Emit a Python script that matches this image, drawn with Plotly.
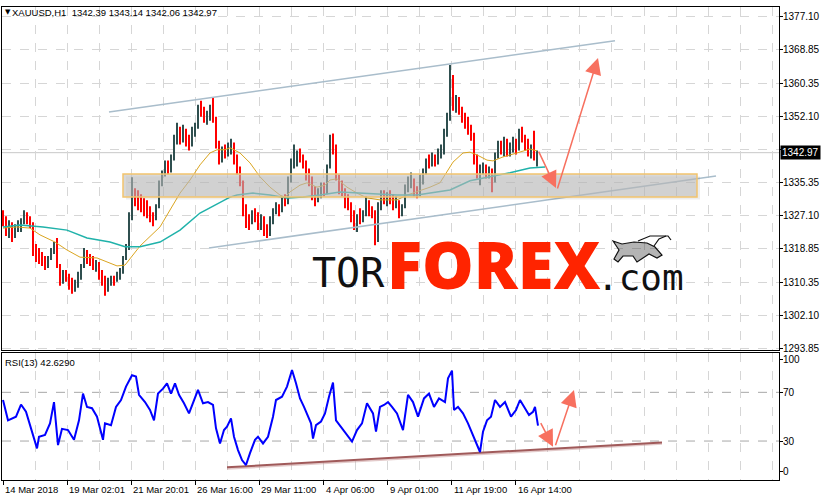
import plotly.graph_objects as go

# ---------------- DATA ----------------
# bar position = hours since 14 Mar 2018 (each bar aggregates 3 hours)
bar_hours = list(range(0, 537, 3))

opens = [1327,1326,1323,1325,1321.5,1324,1324.5,1326,1327.5,1326,
 1325,1318,1317,1316,1315.5,1314.5,1316.5,1318,1320,1315,
 1311,1312.5,1311.5,1309.5,1309,1310,1312,1314.5,1318,1316,
 1315.5,1314.5,1315,1312,1310.5,1308.5,1310.5,1311,1310.5,1312.5,
 1313,1316.5,1319,1327,1332,1331,1330,1329.5,1328.5,1327.5,
 1326.5,1326.5,1329.5,1335,1337.5,1339.5,1338.5,1341.5,1346,1348,
 1347,1348.5,1345.5,1344.5,1348.5,1349.5,1354,1353,1351.5,1352.5,
 1354.5,1351.5,1345,1341.5,1343.5,1343,1344.5,1345.5,1341.5,1338.5,
 1335.5,1328.5,1325.5,1325,1327.5,1326.5,1324.5,1326.5,1323,1322.5,
 1326,1328,1329.5,1328.5,1331,1330.5,1336,1340.5,1341,1342,
 1341.5,1339.5,1337.5,1335.5,1332.5,1331,1333,1334,1333,1339.5,
 1346,1344.5,1337,1334.5,1333.5,1330.5,1329,1327,1325,1326.5,
 1326,1328,1331,1328,1327.5,1324.5,1329.5,1332.5,1331,1332,
 1331,1330,1331,1327.5,1329.5,1334,1335.5,1336.5,1333,1332.5,
 1336.5,1338,1340.5,1340,1341.5,1340.5,1343,1343.5,1348,1352,
 1360,1355,1356,1353.5,1351.5,1350.5,1349,1347,1341,1338,
 1338.5,1339,1337.5,1338.5,1336,1342,1344.5,1343.5,1345.5,1343,
 1344.5,1345.5,1344,1348,1346.5,1344.5,1343.5,1344.5,1342]

highs = [1328.5,1327,1326,1325.5,1325,1326,1326.5,1328.5,1328,1327,
 1325.5,1320,1319,1318,1317,1317,1319,1320.5,1321.5,1315,
 1313.5,1313.5,1312.5,1311.5,1311,1313,1315,1319,1318.5,1317.5,
 1317,1316,1315.5,1313.5,1312,1311.5,1312,1312,1313,1314,
 1317,1320,1328,1336.8,1334,1333.5,1332.5,1331.5,1331,1329.5,
 1328,1330,1336,1338.5,1341,1341,1342.5,1347.5,1350.5,1349.5,
 1350,1349,1347.5,1349.5,1350.5,1355,1356,1354.5,1353.5,1355,
 1356.7,1352,1346,1344.5,1345,1345.5,1346.5,1345.5,1342.5,1339.5,
 1336,1330,1327.5,1328.5,1329,1328,1327.5,1327,1325,1327,
 1329,1330.5,1330,1332,1332.5,1337,1341.5,1345,1343.5,1344,
 1342.5,1341,1339,1337,1334.5,1334,1335.5,1335.5,1340,1347.5,
 1347.8,1345,1337.5,1336,1334,1332.5,1330.5,1328.5,1327.5,1329,
 1328.5,1332,1331,1329.5,1328.5,1330.5,1333.5,1333.5,1333,1333.5,
 1332.5,1332,1331,1330,1335,1337,1338,1336.5,1334.5,1337.5,
 1339,1341.5,1342.5,1343,1342.5,1344,1345,1349,1353,1365,
 1362.5,1357.5,1357,1354.5,1353,1352,1350,1348,1342.5,1340,
 1340.5,1340,1339.5,1339,1343,1346,1346,1347,1346.5,1345.5,
 1347,1346.5,1349,1349.5,1347.5,1346.5,1345,1348.5,1343.5]

lows = [1324.5,1322,1321.5,1320.5,1321.5,1323,1323,1325,1325,1324,
 1317,1315.5,1315,1314.5,1313.5,1314,1316,1317.5,1314,1309.5,
 1310,1310.5,1308.5,1307.5,1308,1309,1311,1314,1315,1314.5,
 1313.5,1313,1311,1309.5,1307,1308,1309.5,1309.5,1310.5,1311,
 1312.5,1316,1318.5,1326,1329.5,1328.5,1328,1327,1326.5,1325.5,
 1324.5,1326,1329,1334.5,1337,1337.5,1338,1341,1345,1345,
 1345.5,1344.5,1343.5,1344.5,1347,1349,1352,1350.5,1350,1351,
 1350.5,1344,1340,1340.5,1341.5,1342,1342.5,1340,1337.5,1334.5,
 1327,1324,1323.5,1325,1325.5,1323.5,1323.5,1322,1321.5,1322,
 1325,1327.5,1327,1328,1329.5,1330,1335.5,1339,1339.5,1340.5,
 1339,1336,1334.5,1331,1329.5,1330.5,1331.5,1332,1332.5,1339,
 1342.5,1336,1332.5,1332,1329,1328.5,1325.5,1323.5,1323,1325,
 1325.5,1327,1327,1326.5,1319.7,1320.5,1328.5,1330,1329.5,1330,
 1328.5,1329,1326.5,1327,1329,1333,1334,1332,1331.5,1332,
 1335,1337.5,1339,1339.5,1339.5,1340,1341.5,1342.5,1347,1351,
 1353.5,1353,1352.5,1350.5,1349,1347.5,1346,1340,1336.5,1334.8,
 1337.5,1336.5,1336.5,1333,1335.5,1341.5,1342.5,1342,1342,1342,
 1343,1342.5,1343.5,1345.5,1343.5,1342,1341.5,1341,1339.5]

closes = [1326,1323,1325,1321.5,1324,1324.5,1326,1327.5,1326,1325,
 1318,1317,1316,1315.5,1314.5,1316.5,1318,1320,1315,1311,
 1312.5,1311.5,1309.5,1309,1310,1312,1314.5,1318,1316,1315.5,
 1314.5,1315,1312,1310.5,1308.5,1310.5,1311,1310.5,1312.5,1313,
 1316.5,1319,1327,1332,1331,1330,1329.5,1328.5,1327.5,1326.5,
 1326.5,1329.5,1335,1337.5,1339.5,1338.5,1341.5,1346,1348,1347,
 1348.5,1345.5,1344.5,1348.5,1349.5,1354,1353,1351.5,1352.5,1354.5,
 1351.5,1345,1341.5,1343.5,1343,1344.5,1345.5,1341.5,1338.5,1335.5,
 1328.5,1325.5,1325,1327.5,1326.5,1324.5,1326.5,1323,1322.5,1326,
 1328,1329.5,1328.5,1331,1330.5,1336,1340.5,1341,1342,1341.5,
 1339.5,1337.5,1335.5,1332.5,1331,1333,1334,1333,1339.5,1346,
 1344.5,1337,1334.5,1333.5,1330.5,1329,1327,1325,1326.5,1326,
 1328,1331,1328,1327.5,1324.5,1329.5,1332.5,1331,1332,1331,
 1330,1331,1327.5,1329.5,1334,1335.5,1336.5,1333,1332.5,1336.5,
 1338,1340.5,1340,1341.5,1340.5,1343,1343.5,1348,1352,1360,
 1355,1356,1353.5,1351.5,1350.5,1349,1347,1341,1338,1338.5,
 1339,1337.5,1338.5,1336,1342,1344.5,1343.5,1345.5,1343,1344.5,
 1345.5,1344,1348,1346.5,1344.5,1343.5,1344.5,1342,1342.97]

ma_fast_hours = [0,14,27,37,52,64,77,94,104,114,122,130,137,157,167,177,187,197,207,214,
 222,227,237,247,257,267,277,282,287,297,304,314,322,327,334,344,354,364,377,394,
 404,414,427,437,440,450,460,467,474,484,490,500,514,527,534]
ma_fast = [1324.0,1324.3,1324.0,1322.3,1320.5,1318.5,1316.7,1316.5,1315.5,1314.5,
 1314.7,1317.2,1319.5,1324.3,1328.6,1332.8,1336.1,1339.9,1342.9,1343.7,
 1343.7,1344.2,1342.9,1340.4,1336.9,1334.3,1332.3,1331.8,1333.1,1334.8,
 1335.4,1334.3,1334.8,1336.1,1336.4,1334.3,1332.8,1331.6,1331.1,1331.1,
 1332.3,1333.1,1334.3,1335.4,1336.6,1340.6,1342.9,1343.1,1342.4,1341.1,
 1340.9,1341.9,1342.9,1343.9,1343.4]

ma_slow_hours = [0,17,40,64,84,107,122,137,157,177,197,217,227,234,250,267,284,300,317,337,
 360,394,414,437,447,467,487,507,527,542]
ma_slow = [1324.3,1324.8,1324.3,1323.5,1321.5,1320.5,1319.3,1319.3,1320.5,1323.5,
 1327.8,1330.6,1331.8,1332.3,1332.8,1332.3,1331.6,1331.8,1332.3,1333.1,
 1332.8,1332.3,1332.3,1333.1,1333.6,1335.9,1336.9,1337.9,1339.1,1339.4]

rsi_hours = [0,5,13,18,23,28,31,34,36,42,47,51,55,59,65,71,76,80,84,89,
 94,100,102,108,113,118,123,129,133,136,142,147,151,155,160,164,168,172,176,181,
 186,191,195,200,205,210,213,217,221,224,228,231,235,239,243,247,252,255,260,265,
 270,273,279,284,289,293,297,301,305,308,310,313,318,322,326,330,333,338,344,349,
 354,359,364,370,373,377,381,385,389,394,400,405,410,415,421,426,431,436,442,445,
 449,451,455,460,465,470,473,477,480,484,488,492,497,502,508,513,517,521,526,530,
 532,535]
rsi_vals = [63.7,47,50,60,54,40,33.5,24,33.5,35,44.5,62,26.7,40,39,31,47,69,58,57,
 50,31,44.5,43,58,63.7,74.7,84,83,68,62,55.5,47,69,73,77.4,69,77.4,68,61,
 52.7,63.7,72,61,62,59.6,40.4,28,39,41.8,48.6,33.5,22.6,14.4,10.3,20,31,33.5,28,33.5,
 50,63.7,66.4,74.7,88.4,77.4,65,58,50,44.5,32,43,46,52.7,66.4,78,47,41.8,35,29.5,
 39,44.5,61,52.7,37.7,58,59.6,62,58,52.7,39,68,62,50,65,69,58,65,62,81.5,
 87.8,55.5,58,52.7,44.5,35,28,21,37.7,47,50,63.7,58,62,50,55.5,63.7,58,51.4,54,
 58,42.6]

# analysis drawings
zone_hours = [120, 694]
zone_prices = [1331.8, 1337.6]
upper_channel_hours = [106, 612]
upper_channel_prices = [1353.2, 1371.1]
lower_channel_hours = [206, 713]
lower_channel_prices = [1319.0, 1337.1]
arrow_down = [(535, 1343.6), (553, 1334.1)]
arrow_up = [(554, 1333.6), (595, 1366.8)]
rsi_trend_hours = [224, 659]
rsi_trend_vals = [8.4, 28.9]
rsi_arrow_down = [(537, 46), (550, 25.3)]
rsi_arrow_up = [(552, 25.3), (571, 72)]

last_price = 1342.97
price_ticks = [1377.10, 1368.85, 1360.35, 1352.10, 1343.85, 1335.35, 1327.10, 1318.85, 1310.35, 1302.10, 1293.85]
price_tick_text = ["1377.10", "1368.85", "1360.35", "1352.10", "", "1335.35", "1327.10", "1318.85", "1310.35", "1302.10", "1293.85"]
rsi_ticks = [96.6, 70, 30, 4.6]
rsi_tick_text = ["100", "70", "30", "0"]
time_labels = ["14 Mar 2018", "19 Mar 02:01", "21 Mar 20:01", "26 Mar 16:00", "29 Mar 11:00",
               "4 Apr 06:00", "9 Apr 01:00", "11 Apr 19:00", "16 Apr 14:00"]
time_label_hours = [64.1 * k for k in range(len(time_labels))]
grid_hours = [32.05 * k for k in range(25)]

# ---------------- FIGURE ----------------
GRID = "#D6D6D6"
FONT = "Liberation Sans"
fig = go.Figure()

fig.add_trace(go.Scatter(x=upper_channel_hours, y=upper_channel_prices, mode="lines",
                         line=dict(color="#A9BDCB", width=1.5), xaxis="x", yaxis="y", hoverinfo="skip"))
fig.add_trace(go.Scatter(x=lower_channel_hours, y=lower_channel_prices, mode="lines",
                         line=dict(color="#A9BDCB", width=1.5), xaxis="x", yaxis="y", hoverinfo="skip"))

fig.add_trace(go.Ohlc(x=bar_hours, open=opens, high=highs, low=lows, close=closes,
                      tickwidth=0,
                      increasing=dict(line=dict(color="#2F4F4F", width=2)),
                      decreasing=dict(line=dict(color="#FF0000", width=2)),
                      xaxis="x", yaxis="y"))

fig.add_trace(go.Scatter(x=ma_fast_hours, y=ma_fast, mode="lines",
                         line=dict(color="#DAA520", width=1), xaxis="x", yaxis="y"))
fig.add_trace(go.Scatter(x=ma_slow_hours, y=ma_slow, mode="lines",
                         line=dict(color="#20B2AA", width=1.5), xaxis="x", yaxis="y"))

fig.add_trace(go.Scatter(x=rsi_trend_hours, y=[v - 1.2 for v in rsi_trend_vals], mode="lines",
                         line=dict(color="rgba(200,150,150,0.5)", width=2), xaxis="x2", yaxis="y2"))
fig.add_trace(go.Scatter(x=rsi_trend_hours, y=rsi_trend_vals, mode="lines",
                         line=dict(color="#A05A5A", width=2), xaxis="x2", yaxis="y2"))
fig.add_trace(go.Scatter(x=rsi_hours, y=rsi_vals, mode="lines",
                         line=dict(color="#0000FF", width=2), xaxis="x2", yaxis="y2"))


def px(xp):
    return (xp - 2) / 777.0


def py(yp):
    return (480 - yp) / 473.0


# rough outline of the bull emblem of the logo (pixel coordinates)
bull_outline = [(613, 241), (622, 244), (634, 242), (647, 243), (655, 247), (662, 255), (657, 258),
                (649, 254), (643, 258), (637, 262), (633, 256), (623, 256), (618, 262), (614, 259), (619, 250)]
bull_horn = [(654, 246), (659, 239), (666, 236)]
bull_arrow = [(638, 241), (650, 236), (668, 236), (671, 240)]


def path_of(points, close=False):
    s = "M " + " L ".join(f"{px(a):.5f},{py(b):.5f}" for a, b in points)
    return s + (" Z" if close else "")


shapes = [
    dict(type="line", xref="x domain", x0=0, x1=1, yref="y", y0=last_price, y1=last_price,
         line=dict(color="#C8C8C8", width=1), layer="below"),
    dict(type="rect", xref="x", yref="y", x0=zone_hours[0] + 3, x1=zone_hours[1] + 3,
         y0=zone_prices[0] - 0.6, y1=zone_prices[1] - 0.6,
         fillcolor="rgba(0,0,0,0.07)", line=dict(width=0), layer="above"),
    dict(type="rect", xref="x", yref="y", x0=zone_hours[0], x1=zone_hours[1],
         y0=zone_prices[0], y1=zone_prices[1],
         fillcolor="rgba(190,190,190,0.6)", line=dict(color="#F2C46D", width=1.5), layer="above"),
    dict(type="line", xref="x2 domain", x0=0, x1=1, yref="y2", y0=70, y1=70,
         line=dict(color="#A8A8A8", width=1, dash="dash"), layer="below"),
    dict(type="line", xref="x2 domain", x0=0, x1=1, yref="y2", y0=30, y1=30,
         line=dict(color="#A8A8A8", width=1, dash="dash"), layer="below"),
    dict(type="path", xref="paper", yref="paper", path=path_of(bull_outline, True),
         fillcolor="rgba(40,40,40,0.35)", line=dict(color="#111111", width=1.2), layer="above"),
    dict(type="path", xref="paper", yref="paper", path=path_of(bull_horn),
         line=dict(color="#111111", width=1.2), layer="above"),
    dict(type="path", xref="paper", yref="paper", path=path_of(bull_arrow),
         line=dict(color="#111111", width=1.2), layer="above"),
]

ARROW = "#F7705F"
annotations = []
for (tail, tip), xr, yr in [(arrow_down, "x", "y"), (arrow_up, "x", "y"),
                            (rsi_arrow_down, "x2", "y2"), (rsi_arrow_up, "x2", "y2")]:
    annotations.append(dict(x=tip[0], y=tip[1], ax=tail[0], ay=tail[1], xref=xr, yref=yr,
                            axref=xr, ayref=yr, showarrow=True, arrowhead=2, arrowsize=2.2,
                            arrowwidth=1.5, arrowcolor=ARROW, text="", standoff=0))

# axis labels (MT4 style: left aligned next to the tick)
for v, t in zip(price_ticks, price_tick_text):
    if t:
        annotations.append(dict(xref="paper", yref="y", x=px(781), y=v, xanchor="left", yanchor="middle",
                                text=t, showarrow=False, font=dict(family=FONT, size=10, color="black")))
for v, t in zip(rsi_ticks, rsi_tick_text):
    annotations.append(dict(xref="paper", yref="y2", x=px(781), y=v, xanchor="left", yanchor="middle",
                            text=t, showarrow=False, font=dict(family=FONT, size=10, color="black")))
for h, t in zip(time_label_hours, time_labels):
    annotations.append(dict(xref="x2", yref="paper", x=h, y=py(489), xanchor="left", yanchor="middle",
                            text=t, showarrow=False, font=dict(family=FONT, size=9.5, color="black")))

annotations += [
    dict(xref="paper", yref="paper", x=px(3), y=py(12), xanchor="left", yanchor="middle",
         text="▼", showarrow=False, font=dict(family="DejaVu Sans", size=7, color="black")),
    dict(xref="paper", yref="paper", x=px(10), y=py(12), xanchor="left", yanchor="middle",
         text="XAUUSD,H1\u00a0\u00a01342.39 1343.14 1342.06 1342.97", showarrow=False,
         font=dict(family=FONT, size=9.5, color="black")),
    dict(xref="paper", yref="paper", x=px(3), y=py(362), xanchor="left", yanchor="middle",
         text="RSI(13) 42.6290", showarrow=False, font=dict(family=FONT, size=9.5, color="black")),
    dict(xref="paper", yref="y", x=px(780), y=last_price, xanchor="left", yanchor="middle",
         text="1342.97", showarrow=False, bgcolor="black", borderpad=1,
         font=dict(family=FONT, size=10, color="white")),
    dict(xref="paper", yref="paper", x=px(310), y=py(272.5), xanchor="left", yanchor="middle",
         text="TOR", showarrow=False, font=dict(family="DejaVu Sans Mono", size=40, color="#111111")),
    dict(xref="paper", yref="paper", x=px(385), y=py(264), xanchor="left", yanchor="middle",
         text="FOREX", showarrow=False,
         font=dict(family="Open Sans", size=65, color="#FF2400", weight=800)),
    dict(xref="paper", yref="paper", x=px(595), y=py(277), xanchor="left", yanchor="middle",
         text=".com", showarrow=False, font=dict(family="DejaVu Sans Mono", size=36, color="#111111")),
]

axis_common = dict(showline=True, mirror=True, linecolor="black", linewidth=1, zeroline=False,
                   automargin=False)

fig.update_layout(
    width=822, height=500,
    margin=dict(l=2, r=43, t=7, b=20, autoexpand=False),
    paper_bgcolor="white", plot_bgcolor="white",
    showlegend=False,
    font=dict(family=FONT, size=10, color="black"),
    shapes=shapes, annotations=annotations,
    xaxis=dict(domain=[0, 1], anchor="y", range=[-1, 776], tickvals=grid_hours,
               showticklabels=False, ticks="", showgrid=True, gridcolor=GRID, griddash="dash",
               rangeslider=dict(visible=False), **axis_common),
    xaxis2=dict(domain=[0, 1], anchor="y2", matches="x", range=[-1, 776],
                tickvals=time_label_hours, showticklabels=False, ticks="outside", ticklen=4,
                tickcolor="black",
                showgrid=True, gridcolor=GRID, griddash="dash",
                minor=dict(tickvals=[g for g in grid_hours if g not in time_label_hours],
                           showgrid=True, gridcolor=GRID, griddash="dash", ticks=""),
                **axis_common),
    yaxis=dict(domain=[0.2748, 1], anchor="x", side="right", range=[1293.35, 1379.6],
               tickvals=price_ticks, showticklabels=False, ticks="outside", ticklen=3,
               tickcolor="black", showgrid=True, gridcolor=GRID, griddash="dash", **axis_common),
    yaxis2=dict(domain=[0, 0.2685], anchor="x2", side="right", range=[-2, 102.3],
                tickvals=rsi_ticks, showticklabels=False,
                ticks="outside", ticklen=3, tickcolor="black", showgrid=False, **axis_common),
)

fig.write_html("out.html", config={"displayModeBar": False},
               post_script="document.body.style.margin='0';document.body.style.overflow='hidden';")
